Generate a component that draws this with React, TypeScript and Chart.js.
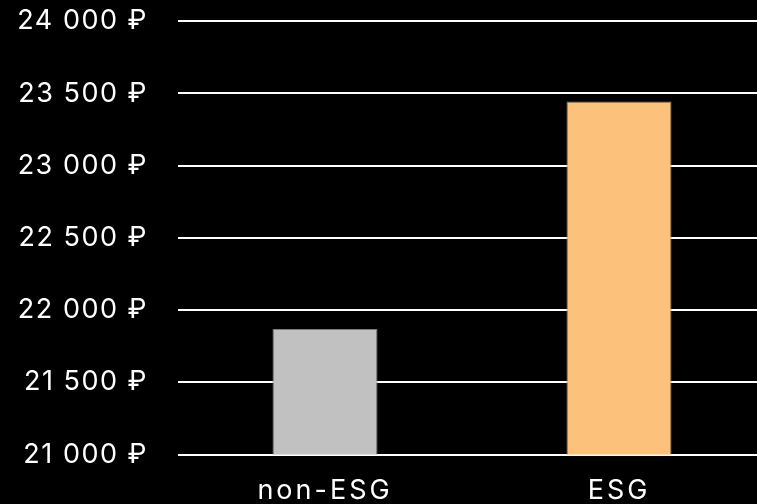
import React, { useEffect, useRef } from "react";
import { Chart, registerables } from "chart.js";

Chart.register(...registerables);

const categories = ["non-ESG", "ESG"];
const values = [21870, 23445];
const barColors = ["#c1c1c1", "#fcc17b"];
const borderColors = ["#7a7a7a", "#9c7a4e"];
const yMin = 21000;
const yMax = 24000;
const yStep = 500;

function fmt(v: number): string {
  const s = Math.round(v).toString();
  const grouped = s.replace(/\B(?=(\d{3})+(?!\d))/g, "\u00A0");
  return grouped + "\u00A0₽";
}

const spacingPlugin = {
  id: "letterSpacing",
  beforeUpdate(chart: any) {
    chart.ctx.letterSpacing = "3px";
  },
  beforeDraw(chart: any) {
    chart.ctx.letterSpacing = "3px";
  },
};

export default function App() {
  const ref = useRef<HTMLCanvasElement | null>(null);
  useEffect(() => {
    document.documentElement.style.overflow = "hidden";
    document.body.style.margin = "0";
    document.body.style.overflow = "hidden";
    document.body.style.background = "#000";
    const chart: any = new Chart(ref.current!, {
      type: "bar",
      data: {
        labels: categories,
        datasets: [
          {
            data: values,
            backgroundColor: barColors,
            borderColor: borderColors,
            borderWidth: 1,
            barPercentage: 0.9,
            categoryPercentage: 0.397,
          },
        ],
      },
      options: {
        animation: false,
        responsive: false,
        maintainAspectRatio: false,
        layout: { padding: { top: 0, right: 0, left: 0, bottom: -23 } },
        plugins: { legend: { display: false }, tooltip: { enabled: false } },
        scales: {
          x: {
            grid: { display: false, drawTicks: false },
            border: { display: false },
            ticks: {
              color: "#ffffff",
              padding: 20,
              font: { family: "Inter", size: 27 },
            },
          },
          y: {
            min: yMin,
            max: yMax,
            afterFit: (scale: any) => {
              scale.width = 178;
            },
            grid: { color: "#ffffff", lineWidth: 2, drawTicks: false },
            border: { display: false },
            ticks: {
              stepSize: yStep,
              color: "#ffffff",
              padding: 30,
              font: { family: "Inter", size: 27 },
              callback: (v: any) => fmt(Number(v)),
            },
          },
        },
      },
      plugins: [spacingPlugin],
    });
    const ys = chart.scales.y;
    const origDraw = ys.drawLabels.bind(ys);
    ys.drawLabels = (area: any) => {
      const c = ys.ctx;
      const prev = c.letterSpacing;
      c.letterSpacing = "1.5px";
      origDraw(area);
      c.letterSpacing = prev;
    };
    chart.draw();
    return () => chart.destroy();
  }, []);
  return (
    <div style={{ width: 757, height: 504, background: "#000", overflow: "hidden" }}>
      <canvas ref={ref} width={766} height={529} style={{ display: "block", marginTop: -25 }} />
    </div>
  );
}
